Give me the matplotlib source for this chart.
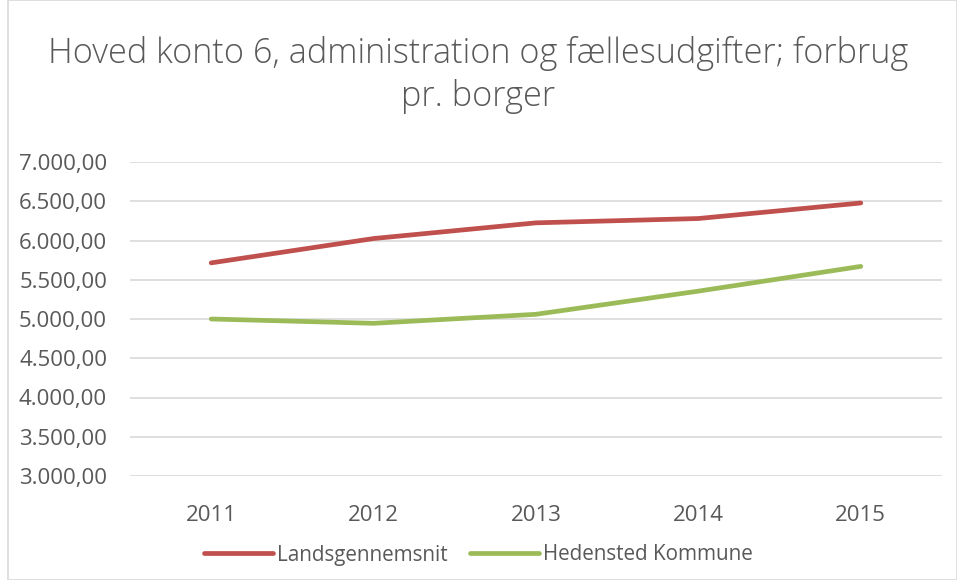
import matplotlib.pyplot as plt
from matplotlib.patches import Rectangle

# Data
years = ["2011", "2012", "2013", "2014", "2015"]
landsgennemsnit = [5715, 6025, 6225, 6280, 6478]
hedensted = [5000, 4945, 5060, 5355, 5670]
yticks = [3000, 3500, 4000, 4500, 5000, 5500, 6000, 6500, 7000]

red = "#C0504D"
green = "#9BBB59"
txt = "#595959"

fig = plt.figure(figsize=(9.57, 5.80), dpi=100)
ax = fig.add_axes([130/957, 1 - 476/580, (942-130)/957, (476-162)/580])

x = list(range(len(years)))
ax.plot(x, landsgennemsnit, color=red, lw=3.4, solid_capstyle="round", label="Landsgennemsnit")
ax.plot(x, hedensted, color=green, lw=3.4, solid_capstyle="round", label="Hedensted Kommune")

ax.set_xlim(-0.5, len(years) - 0.5)
ax.set_ylim(3000, 7000)
ax.set_yticks(yticks)
ax.set_yticklabels([f"{v:,.2f}".replace(",", "X").replace(".", ",").replace("X", ".") for v in yticks])
ax.set_xticks(x)
ax.set_xticklabels(years)
ax.grid(axis="y", color="#D9D9D9", lw=1.2)
ax.set_axisbelow(True)
for s in ax.spines.values():
    s.set_visible(False)
ax.tick_params(length=0, labelsize=16, labelcolor=txt)
ax.tick_params(axis="y", pad=16.5)
ax.tick_params(axis="x", pad=21)
for lab in ax.get_xticklabels() + ax.get_yticklabels():
    lab.set_fontfamily("Open Sans")

fig.text(0.5, 1 - 75/580, "Hoved konto 6, administration og fællesudgifter; forbrug\npr. borger",
         ha="center", va="center", fontsize=24.7, color=txt, family="Open Sans",
         linespacing=1.3, fontweight="light")

fig.legend(loc="center", bbox_to_anchor=(0.5, 1 - 555/580), ncol=2, frameon=False,
           prop={"family": "Open Sans", "size": 14.9}, labelcolor=txt,
           handlelength=3.3, handletextpad=0.2, columnspacing=1.1)

fig.patches.append(Rectangle((8/957, 0), 1 - 8/957 - 0.5/957, 1, transform=fig.transFigure,
                             fill=False, edgecolor="#D9D9D9", lw=1.2))

fig.savefig("out.png", dpi=100)
